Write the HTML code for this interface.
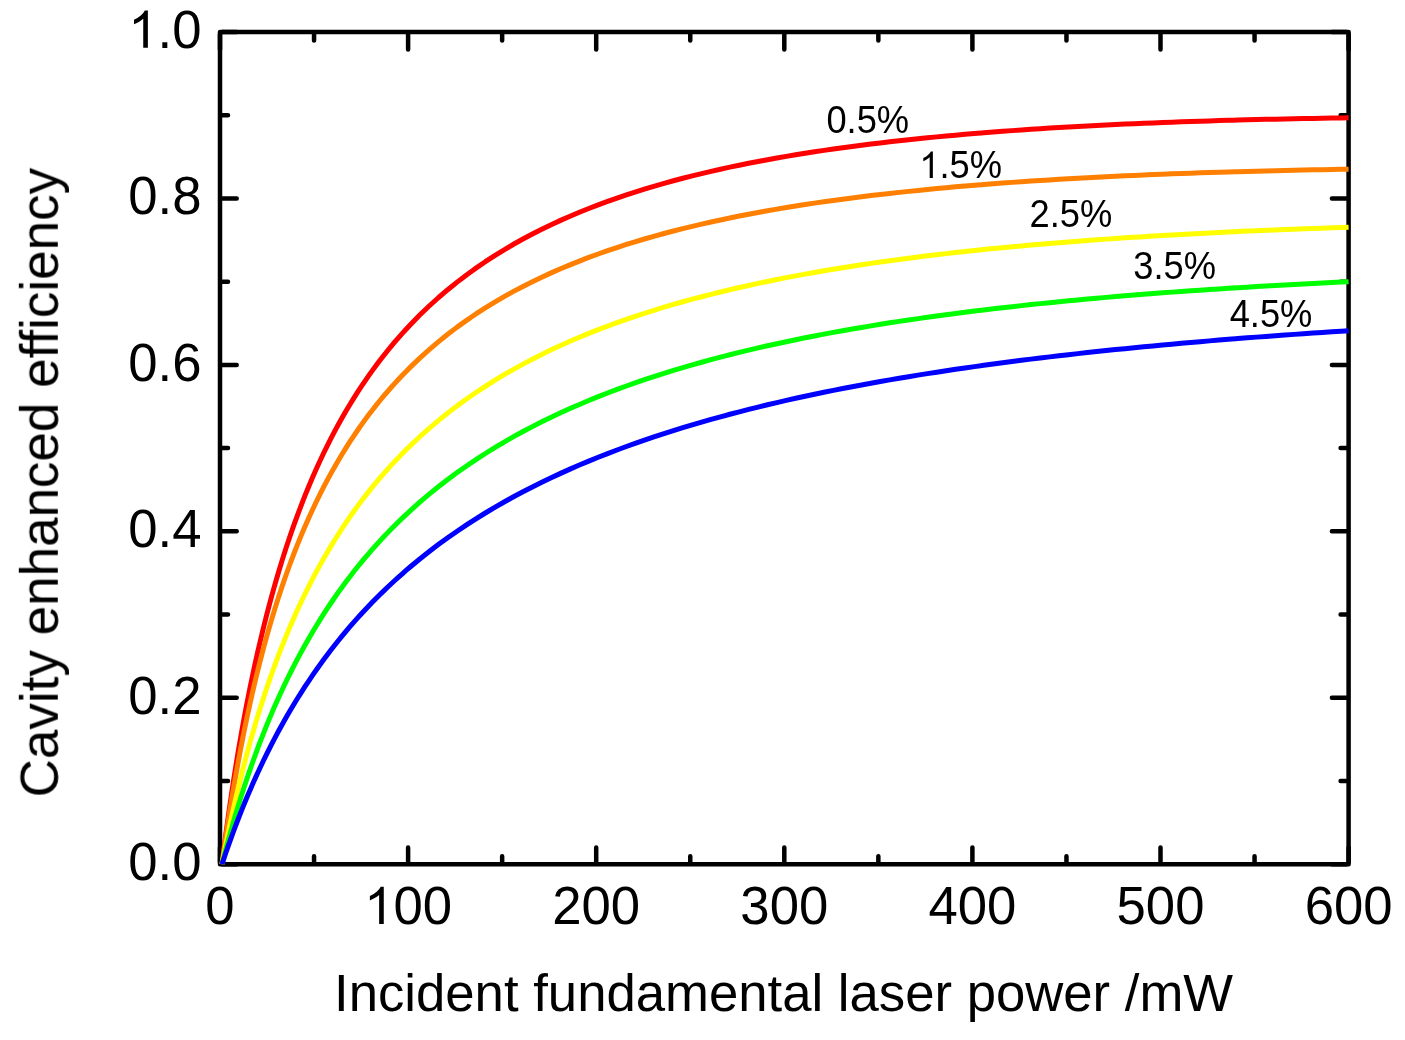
<!DOCTYPE html>
<html><head><meta charset="utf-8"><style>
html,body{margin:0;padding:0;background:#fff;}
svg{display:block;}
text{font-family:"Liberation Sans",sans-serif;fill:#000;}
</style></head><body>
<svg width="1405" height="1040" viewBox="0 0 1405 1040">
<defs><filter id="bl" x="0" y="0" width="1" height="1" color-interpolation-filters="sRGB"><feGaussianBlur stdDeviation="0.45"/></filter></defs>
<rect x="0" y="0" width="1405" height="1040" fill="#fff"/>
<g filter="url(#bl)">
<g fill="none" stroke="#000" stroke-width="4.5" stroke-linejoin="round" stroke-linecap="round">
<rect x="220.0" y="32.00" width="1128.60" height="832.20"/>
<path d="M220.00,861.90V847.50 M220.00,34.30V49.60 M314.05,861.90V856.20 M314.05,34.30V40.60 M408.10,861.90V847.50 M408.10,34.30V49.60 M502.15,861.90V856.20 M502.15,34.30V40.60 M596.20,861.90V847.50 M596.20,34.30V49.60 M690.25,861.90V856.20 M690.25,34.30V40.60 M784.30,861.90V847.50 M784.30,34.30V49.60 M878.35,861.90V856.20 M878.35,34.30V40.60 M972.40,861.90V847.50 M972.40,34.30V49.60 M1066.45,861.90V856.20 M1066.45,34.30V40.60 M1160.50,861.90V847.50 M1160.50,34.30V49.60 M1254.55,861.90V856.20 M1254.55,34.30V40.60 M1348.60,861.90V847.50 M1348.60,34.30V49.60 M222.30,864.20H236.70 M1346.30,864.20H1331.90 M222.30,780.98H228.00 M1346.30,780.98H1340.60 M222.30,697.76H236.70 M1346.30,697.76H1331.90 M222.30,614.54H228.00 M1346.30,614.54H1340.60 M222.30,531.32H236.70 M1346.30,531.32H1331.90 M222.30,448.10H228.00 M1346.30,448.10H1340.60 M222.30,364.88H236.70 M1346.30,364.88H1331.90 M222.30,281.66H228.00 M1346.30,281.66H1340.60 M222.30,198.44H236.70 M1346.30,198.44H1331.90 M222.30,115.22H228.00 M1346.30,115.22H1340.60 M222.30,32.00H236.70 M1346.30,32.00H1331.90"/>
</g>
<g fill="none" stroke-width="5.0" stroke-linejoin="round" stroke-linecap="butt">
<path d="M222.00,864.20 L222.47,860.41 L222.94,856.66 L223.41,852.94 L223.88,849.26 L224.35,845.61 L224.82,842.00 L225.29,838.43 L225.76,834.88 L227.64,821.04 L229.52,807.69 L231.41,794.81 L233.29,782.37 L235.17,770.35 L237.05,758.72 L238.93,747.47 L240.81,736.57 L242.69,726.01 L244.57,715.77 L246.45,705.83 L248.33,696.18 L250.22,686.81 L252.10,677.70 L253.98,668.85 L255.86,660.24 L257.74,651.85 L259.62,643.69 L263.38,628.00 L267.14,613.08 L270.91,598.88 L274.67,585.35 L278.43,572.44 L282.19,560.11 L285.95,548.31 L289.72,537.00 L293.48,526.17 L297.24,515.78 L301.00,505.79 L304.76,496.20 L308.53,486.96 L312.29,478.07 L316.05,469.51 L319.81,461.25 L323.57,453.28 L327.34,445.58 L331.10,438.15 L334.86,430.96 L338.62,424.01 L342.38,417.28 L346.15,410.77 L349.91,404.46 L353.67,398.34 L357.43,392.40 L361.19,386.65 L364.96,381.06 L368.72,375.64 L372.48,370.37 L376.24,365.24 L380.00,360.26 L383.77,355.42 L387.53,350.71 L391.29,346.13 L395.05,341.66 L398.81,337.32 L402.58,333.08 L406.34,328.96 L410.10,324.94 L419.50,315.31 L428.91,306.27 L438.31,297.75 L447.72,289.71 L457.12,282.12 L466.53,274.94 L475.93,268.15 L485.34,261.71 L494.74,255.60 L504.15,249.79 L513.55,244.27 L522.96,239.02 L532.37,234.02 L541.77,229.26 L551.17,224.71 L560.58,220.37 L569.98,216.22 L579.39,212.26 L588.79,208.47 L598.20,204.85 L607.61,201.38 L617.01,198.05 L626.41,194.86 L635.82,191.81 L645.22,188.88 L654.63,186.06 L664.03,183.36 L673.44,180.77 L682.85,178.27 L692.25,175.88 L701.65,173.57 L711.06,171.36 L720.46,169.23 L729.87,167.17 L739.27,165.20 L748.68,163.30 L758.08,161.47 L767.49,159.71 L776.89,158.01 L786.30,156.37 L795.70,154.79 L805.11,153.27 L814.51,151.81 L823.92,150.40 L833.32,149.03 L842.73,147.72 L852.13,146.45 L861.54,145.23 L870.94,144.05 L880.35,142.91 L889.75,141.82 L899.16,140.76 L908.56,139.74 L917.97,138.75 L927.37,137.80 L936.78,136.88 L946.18,136.00 L955.59,135.15 L964.99,134.32 L974.40,133.53 L983.80,132.76 L993.21,132.02 L1002.61,131.31 L1012.02,130.63 L1021.42,129.96 L1030.83,129.33 L1040.23,128.71 L1049.64,128.12 L1059.05,127.55 L1068.45,127.00 L1077.86,126.47 L1087.26,125.96 L1096.66,125.47 L1106.07,125.00 L1115.47,124.54 L1124.88,124.11 L1134.28,123.69 L1143.69,123.29 L1153.09,122.90 L1162.50,122.53 L1171.90,122.18 L1181.31,121.83 L1190.71,121.51 L1200.12,121.20 L1209.52,120.90 L1218.93,120.61 L1228.34,120.34 L1237.74,120.08 L1247.14,119.83 L1256.55,119.59 L1265.95,119.36 L1275.36,119.15 L1284.76,118.95 L1294.17,118.75 L1303.57,118.57 L1312.98,118.40 L1322.38,118.24 L1331.79,118.08 L1341.19,117.94 L1348.60,117.83" stroke="#FF0000"/>
<path d="M222.00,864.20 L222.47,860.77 L222.94,857.37 L223.41,854.00 L223.88,850.66 L224.35,847.36 L224.82,844.09 L225.29,840.84 L225.76,837.63 L227.64,825.06 L229.52,812.93 L231.41,801.22 L233.29,789.89 L235.17,778.95 L237.05,768.35 L238.93,758.08 L240.81,748.13 L242.69,738.49 L244.57,729.12 L246.45,720.04 L248.33,711.21 L250.22,702.63 L252.10,694.28 L253.98,686.16 L255.86,678.26 L257.74,670.57 L259.62,663.08 L263.38,648.65 L267.14,634.93 L270.91,621.87 L274.67,609.40 L278.43,597.50 L282.19,586.11 L285.95,575.21 L289.72,564.77 L293.48,554.75 L297.24,545.13 L301.00,535.89 L304.76,527.00 L308.53,518.44 L312.29,510.19 L316.05,502.24 L319.81,494.57 L323.57,487.17 L327.34,480.02 L331.10,473.10 L334.86,466.42 L338.62,459.94 L342.38,453.68 L346.15,447.61 L349.91,441.72 L353.67,436.02 L357.43,430.48 L361.19,425.11 L364.96,419.89 L368.72,414.83 L372.48,409.90 L376.24,405.11 L380.00,400.46 L383.77,395.93 L387.53,391.52 L391.29,387.23 L395.05,383.05 L398.81,378.97 L402.58,375.01 L406.34,371.14 L410.10,367.37 L419.50,358.34 L428.91,349.84 L438.31,341.83 L447.72,334.27 L457.12,327.13 L466.53,320.37 L475.93,313.96 L485.34,307.88 L494.74,302.11 L504.15,296.63 L513.55,291.41 L522.96,286.44 L532.37,281.70 L541.77,277.19 L551.17,272.88 L560.58,268.76 L569.98,264.82 L579.39,261.06 L588.79,257.45 L598.20,254.00 L607.61,250.70 L617.01,247.53 L626.41,244.49 L635.82,241.57 L645.22,238.77 L654.63,236.08 L664.03,233.50 L673.44,231.01 L682.85,228.63 L692.25,226.33 L701.65,224.12 L711.06,221.99 L720.46,219.94 L729.87,217.97 L739.27,216.07 L748.68,214.24 L758.08,212.48 L767.49,210.77 L776.89,209.13 L786.30,207.55 L795.70,206.03 L805.11,204.55 L814.51,203.13 L823.92,201.76 L833.32,200.44 L842.73,199.16 L852.13,197.93 L861.54,196.74 L870.94,195.59 L880.35,194.48 L889.75,193.41 L899.16,192.37 L908.56,191.37 L917.97,190.41 L927.37,189.47 L936.78,188.57 L946.18,187.70 L955.59,186.86 L964.99,186.05 L974.40,185.26 L983.80,184.50 L993.21,183.77 L1002.61,183.07 L1012.02,182.38 L1021.42,181.72 L1030.83,181.09 L1040.23,180.47 L1049.64,179.88 L1059.05,179.31 L1068.45,178.76 L1077.86,178.22 L1087.26,177.71 L1096.66,177.21 L1106.07,176.74 L1115.47,176.27 L1124.88,175.83 L1134.28,175.40 L1143.69,174.99 L1153.09,174.59 L1162.50,174.21 L1171.90,173.85 L1181.31,173.49 L1190.71,173.15 L1200.12,172.83 L1209.52,172.51 L1218.93,172.21 L1228.34,171.93 L1237.74,171.65 L1247.14,171.38 L1256.55,171.13 L1265.95,170.89 L1275.36,170.66 L1284.76,170.43 L1294.17,170.22 L1303.57,170.02 L1312.98,169.83 L1322.38,169.65 L1331.79,169.47 L1341.19,169.31 L1348.60,169.18" stroke="#FF8000"/>
<path d="M222.00,864.20 L222.47,861.73 L222.94,859.28 L223.41,856.85 L223.88,854.44 L224.35,852.04 L224.82,849.66 L225.29,847.30 L225.76,844.96 L227.64,835.73 L229.52,826.76 L231.41,818.03 L233.29,809.53 L235.17,801.25 L237.05,793.18 L238.93,785.31 L240.81,777.64 L242.69,770.15 L244.57,762.84 L246.45,755.70 L248.33,748.73 L250.22,741.91 L252.10,735.25 L253.98,728.74 L255.86,722.37 L257.74,716.14 L259.62,710.04 L263.38,698.22 L267.14,686.89 L270.91,676.00 L274.67,665.54 L278.43,655.47 L282.19,645.78 L285.95,636.44 L289.72,627.43 L293.48,618.73 L297.24,610.33 L301.00,602.21 L304.76,594.36 L308.53,586.77 L312.29,579.41 L316.05,572.29 L319.81,565.38 L323.57,558.68 L327.34,552.18 L331.10,545.87 L334.86,539.74 L338.62,533.79 L342.38,528.00 L346.15,522.37 L349.91,516.89 L353.67,511.56 L357.43,506.37 L361.19,501.32 L364.96,496.39 L368.72,491.59 L372.48,486.91 L376.24,482.35 L380.00,477.90 L383.77,473.55 L387.53,469.31 L391.29,465.17 L395.05,461.13 L398.81,457.18 L402.58,453.32 L406.34,449.55 L410.10,445.86 L419.50,436.99 L428.91,428.59 L438.31,420.62 L447.72,413.06 L457.12,405.87 L466.53,399.03 L475.93,392.52 L485.34,386.31 L494.74,380.38 L504.15,374.72 L513.55,369.31 L522.96,364.13 L532.37,359.18 L541.77,354.43 L551.17,349.87 L560.58,345.50 L569.98,341.31 L579.39,337.28 L588.79,333.41 L598.20,329.69 L607.61,326.11 L617.01,322.66 L626.41,319.34 L635.82,316.14 L645.22,313.06 L654.63,310.08 L664.03,307.22 L673.44,304.45 L682.85,301.78 L692.25,299.20 L701.65,296.71 L711.06,294.30 L720.46,291.97 L729.87,289.72 L739.27,287.54 L748.68,285.44 L758.08,283.40 L767.49,281.43 L776.89,279.52 L786.30,277.67 L795.70,275.88 L805.11,274.14 L814.51,272.46 L823.92,270.83 L833.32,269.25 L842.73,267.72 L852.13,266.24 L861.54,264.80 L870.94,263.40 L880.35,262.05 L889.75,260.73 L899.16,259.46 L908.56,258.22 L917.97,257.02 L927.37,255.85 L936.78,254.72 L946.18,253.62 L955.59,252.55 L964.99,251.52 L974.40,250.51 L983.80,249.53 L993.21,248.59 L1002.61,247.66 L1012.02,246.77 L1021.42,245.90 L1030.83,245.06 L1040.23,244.24 L1049.64,243.44 L1059.05,242.67 L1068.45,241.91 L1077.86,241.18 L1087.26,240.47 L1096.66,239.79 L1106.07,239.12 L1115.47,238.47 L1124.88,237.84 L1134.28,237.22 L1143.69,236.63 L1153.09,236.05 L1162.50,235.49 L1171.90,234.94 L1181.31,234.41 L1190.71,233.90 L1200.12,233.40 L1209.52,232.92 L1218.93,232.45 L1228.34,231.99 L1237.74,231.55 L1247.14,231.12 L1256.55,230.71 L1265.95,230.30 L1275.36,229.91 L1284.76,229.53 L1294.17,229.17 L1303.57,228.81 L1312.98,228.46 L1322.38,228.13 L1331.79,227.81 L1341.19,227.49 L1348.60,227.25" stroke="#FFFF00"/>
<path d="M222.00,864.20 L222.47,862.35 L222.94,860.50 L223.41,858.67 L223.88,856.85 L224.35,855.04 L224.82,853.24 L225.29,851.45 L225.76,849.67 L227.64,842.65 L229.52,835.79 L231.41,829.07 L233.29,822.50 L235.17,816.07 L237.05,809.77 L238.93,803.61 L240.81,797.56 L242.69,791.64 L244.57,785.84 L246.45,780.15 L248.33,774.57 L250.22,769.10 L252.10,763.73 L253.98,758.47 L255.86,753.29 L257.74,748.22 L259.62,743.23 L263.38,733.53 L267.14,724.16 L270.91,715.11 L274.67,706.36 L278.43,697.90 L282.19,689.70 L285.95,681.77 L289.72,674.08 L293.48,666.62 L297.24,659.38 L301.00,652.36 L304.76,645.54 L308.53,638.91 L312.29,632.46 L316.05,626.19 L319.81,620.10 L323.57,614.16 L327.34,608.38 L331.10,602.75 L334.86,597.26 L338.62,591.91 L342.38,586.70 L346.15,581.61 L349.91,576.64 L353.67,571.80 L357.43,567.06 L361.19,562.44 L364.96,557.93 L368.72,553.51 L372.48,549.20 L376.24,544.98 L380.00,540.85 L383.77,536.82 L387.53,532.87 L391.29,529.00 L395.05,525.22 L398.81,521.51 L402.58,517.88 L406.34,514.33 L410.10,510.85 L419.50,502.44 L428.91,494.43 L438.31,486.81 L447.72,479.53 L457.12,472.58 L466.53,465.94 L475.93,459.58 L485.34,453.50 L494.74,447.66 L504.15,442.07 L513.55,436.70 L522.96,431.55 L532.37,426.59 L541.77,421.82 L551.17,417.24 L560.58,412.82 L569.98,408.57 L579.39,404.46 L588.79,400.51 L598.20,396.69 L607.61,393.01 L617.01,389.45 L626.41,386.01 L635.82,382.69 L645.22,379.47 L654.63,376.36 L664.03,373.35 L673.44,370.44 L682.85,367.62 L692.25,364.89 L701.65,362.24 L711.06,359.67 L720.46,357.18 L729.87,354.77 L739.27,352.42 L748.68,350.15 L758.08,347.94 L767.49,345.80 L776.89,343.72 L786.30,341.70 L795.70,339.73 L805.11,337.82 L814.51,335.97 L823.92,334.16 L833.32,332.41 L842.73,330.70 L852.13,329.04 L861.54,327.43 L870.94,325.86 L880.35,324.33 L889.75,322.84 L899.16,321.39 L908.56,319.98 L917.97,318.60 L927.37,317.26 L936.78,315.96 L946.18,314.69 L955.59,313.45 L964.99,312.24 L974.40,311.07 L983.80,309.92 L993.21,308.81 L1002.61,307.72 L1012.02,306.65 L1021.42,305.62 L1030.83,304.61 L1040.23,303.63 L1049.64,302.67 L1059.05,301.73 L1068.45,300.82 L1077.86,299.93 L1087.26,299.06 L1096.66,298.21 L1106.07,297.38 L1115.47,296.57 L1124.88,295.79 L1134.28,295.02 L1143.69,294.27 L1153.09,293.54 L1162.50,292.82 L1171.90,292.13 L1181.31,291.45 L1190.71,290.79 L1200.12,290.14 L1209.52,289.51 L1218.93,288.89 L1228.34,288.29 L1237.74,287.70 L1247.14,287.13 L1256.55,286.57 L1265.95,286.03 L1275.36,285.49 L1284.76,284.97 L1294.17,284.47 L1303.57,283.97 L1312.98,283.49 L1322.38,283.02 L1331.79,282.56 L1341.19,282.11 L1348.60,281.77" stroke="#00FF00"/>
<path d="M222.00,864.20 L222.47,862.78 L222.94,861.38 L223.41,859.97 L223.88,858.58 L224.35,857.19 L224.82,855.81 L225.29,854.43 L225.76,853.06 L227.64,847.65 L229.52,842.33 L231.41,837.12 L233.29,831.99 L235.17,826.96 L237.05,822.01 L238.93,817.15 L240.81,812.38 L242.69,807.68 L244.57,803.06 L246.45,798.52 L248.33,794.06 L250.22,789.66 L252.10,785.34 L253.98,781.08 L255.86,776.90 L257.74,772.77 L259.62,768.71 L263.38,760.78 L267.14,753.08 L270.91,745.61 L274.67,738.36 L278.43,731.30 L282.19,724.45 L285.95,717.78 L289.72,711.29 L293.48,704.97 L297.24,698.81 L301.00,692.81 L304.76,686.97 L308.53,681.27 L312.29,675.71 L316.05,670.28 L319.81,664.98 L323.57,659.81 L327.34,654.75 L331.10,649.82 L334.86,644.99 L338.62,640.27 L342.38,635.66 L346.15,631.14 L349.91,626.72 L353.67,622.40 L357.43,618.17 L361.19,614.02 L364.96,609.96 L368.72,605.99 L372.48,602.09 L376.24,598.27 L380.00,594.52 L383.77,590.85 L387.53,587.25 L391.29,583.71 L395.05,580.25 L398.81,576.85 L402.58,573.51 L406.34,570.23 L410.10,567.01 L419.50,559.21 L428.91,551.75 L438.31,544.61 L447.72,537.76 L457.12,531.19 L466.53,524.89 L475.93,518.83 L485.34,513.00 L494.74,507.39 L504.15,501.99 L513.55,496.78 L522.96,491.77 L532.37,486.92 L541.77,482.25 L551.17,477.73 L560.58,473.37 L569.98,469.15 L579.39,465.07 L588.79,461.12 L598.20,457.29 L607.61,453.59 L617.01,450.00 L626.41,446.52 L635.82,443.14 L645.22,439.86 L654.63,436.68 L664.03,433.60 L673.44,430.60 L682.85,427.68 L692.25,424.85 L701.65,422.10 L711.06,419.42 L720.46,416.82 L729.87,414.28 L739.27,411.82 L748.68,409.41 L758.08,407.08 L767.49,404.80 L776.89,402.58 L786.30,400.42 L795.70,398.31 L805.11,396.25 L814.51,394.25 L823.92,392.29 L833.32,390.39 L842.73,388.52 L852.13,386.71 L861.54,384.94 L870.94,383.21 L880.35,381.52 L889.75,379.86 L899.16,378.25 L908.56,376.68 L917.97,375.14 L927.37,373.63 L936.78,372.17 L946.18,370.73 L955.59,369.32 L964.99,367.95 L974.40,366.61 L983.80,365.29 L993.21,364.01 L1002.61,362.75 L1012.02,361.52 L1021.42,360.32 L1030.83,359.14 L1040.23,357.99 L1049.64,356.86 L1059.05,355.75 L1068.45,354.67 L1077.86,353.61 L1087.26,352.58 L1096.66,351.56 L1106.07,350.57 L1115.47,349.59 L1124.88,348.64 L1134.28,347.70 L1143.69,346.79 L1153.09,345.89 L1162.50,345.01 L1171.90,344.15 L1181.31,343.30 L1190.71,342.48 L1200.12,341.67 L1209.52,340.87 L1218.93,340.09 L1228.34,339.33 L1237.74,338.58 L1247.14,337.84 L1256.55,337.12 L1265.95,336.42 L1275.36,335.73 L1284.76,335.05 L1294.17,334.38 L1303.57,333.73 L1312.98,333.09 L1322.38,332.46 L1331.79,331.84 L1341.19,331.24 L1348.60,330.77" stroke="#0000FF"/>
</g>
<g fill="#000">
<g transform="translate(128.24,880.00) scale(1,1.02)" font-size="52.7"><text x="0.00" y="0">0.0</text></g>
<g transform="translate(128.24,713.56) scale(1,1.02)" font-size="52.7"><text x="0.00" y="0">0.2</text></g>
<g transform="translate(128.24,547.12) scale(1,1.02)" font-size="52.7"><text x="0.00" y="0">0.4</text></g>
<g transform="translate(128.24,380.68) scale(1,1.02)" font-size="52.7"><text x="0.00" y="0">0.6</text></g>
<g transform="translate(128.24,214.24) scale(1,1.02)" font-size="52.7"><text x="0.00" y="0">0.8</text></g>
<g transform="translate(128.24,47.80) scale(1,1.02)" font-size="52.7"><path transform="translate(0.00,0) scale(0.02573,-0.02483)" d="M763,0L583,0L583,1147Q518,1085 412.5,1023Q307,961 223,930L223,1104Q374,1175 487,1276Q600,1377 647,1472L763,1472Z"/><text x="29.31" y="0">.0</text></g>
<g transform="translate(205.35,924.00) scale(1,1.02)" font-size="52.7"><text x="0.00" y="0">0</text></g>
<g transform="translate(364.14,924.00) scale(1,1.02)" font-size="52.7"><path transform="translate(0.00,0) scale(0.02573,-0.02483)" d="M763,0L583,0L583,1147Q518,1085 412.5,1023Q307,961 223,930L223,1104Q374,1175 487,1276Q600,1377 647,1472L763,1472Z"/><text x="29.31" y="0">00</text></g>
<g transform="translate(552.24,924.00) scale(1,1.02)" font-size="52.7"><text x="0.00" y="0">200</text></g>
<g transform="translate(740.34,924.00) scale(1,1.02)" font-size="52.7"><text x="0.00" y="0">300</text></g>
<g transform="translate(928.44,924.00) scale(1,1.02)" font-size="52.7"><text x="0.00" y="0">400</text></g>
<g transform="translate(1116.54,924.00) scale(1,1.02)" font-size="52.7"><text x="0.00" y="0">500</text></g>
<g transform="translate(1304.64,924.00) scale(1,1.02)" font-size="52.7"><text x="0.00" y="0">600</text></g>
<g transform="translate(826.38,132.90) scale(1,1.05)" font-size="36.3"><text x="0.00" y="0">0.5%</text></g>
<g transform="translate(919.35,177.90) scale(1,1.05)" font-size="36.3"><path transform="translate(0.00,0) scale(0.01772,-0.01710)" d="M763,0L583,0L583,1147Q518,1085 412.5,1023Q307,961 223,930L223,1104Q374,1175 487,1276Q600,1377 647,1472L763,1472Z"/><text x="20.19" y="0">.5%</text></g>
<g transform="translate(1029.47,227.00) scale(1,1.05)" font-size="36.3"><text x="0.00" y="0">2.5%</text></g>
<g transform="translate(1133.22,279.30) scale(1,1.05)" font-size="36.3"><text x="0.00" y="0">3.5%</text></g>
<g transform="translate(1229.67,326.90) scale(1,1.05)" font-size="36.3"><text x="0.00" y="0">4.5%</text></g>
</g>
<g font-size="52.7">
<text x="783.55" y="1010.6" text-anchor="middle">Incident fundamental laser power /mW</text>
<text transform="translate(57.8,482.6) rotate(-90)" text-anchor="middle" font-size="53.0">Cavity enhanced efficiency</text>
</g>
</g>
</svg>
</body></html>
